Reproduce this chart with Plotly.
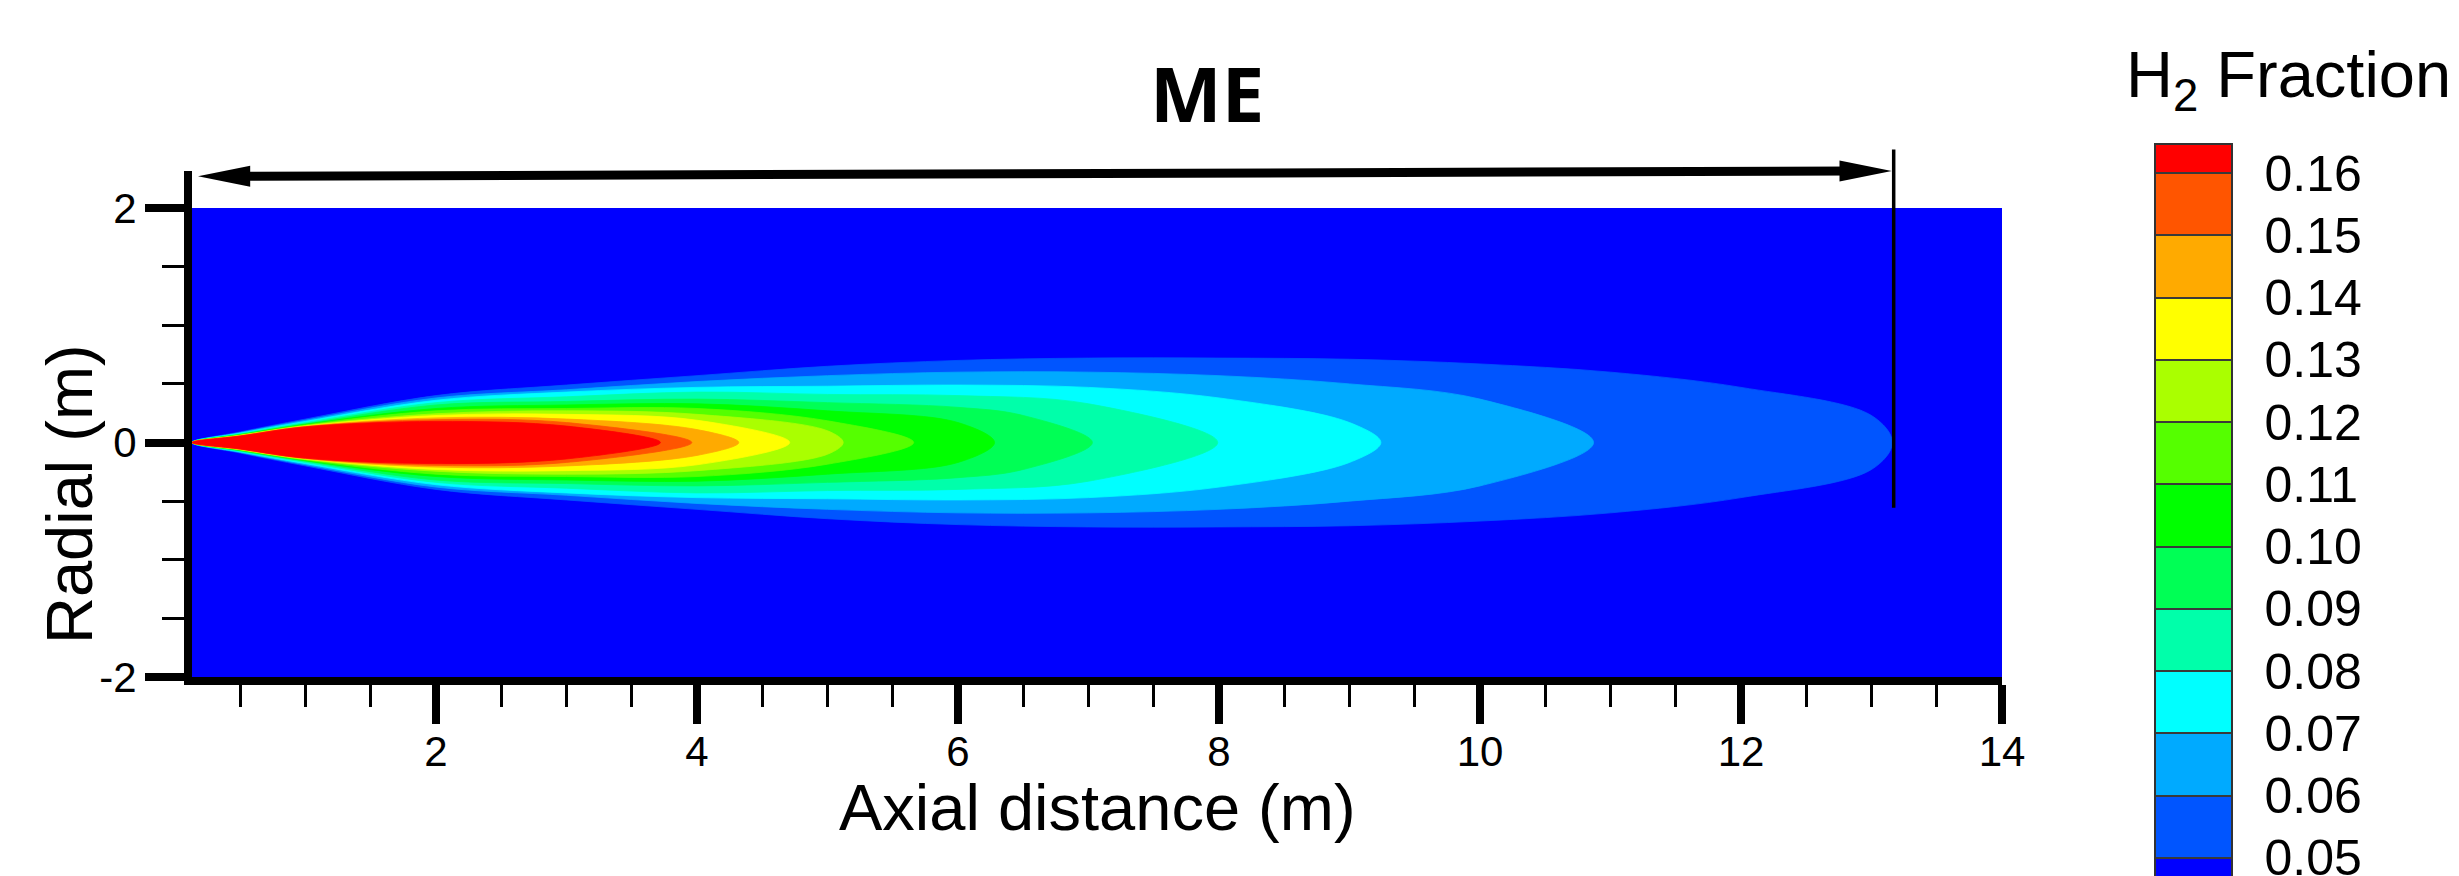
import plotly.graph_objects as go

# ---------------- data ----------------
levels = [0.05, 0.06, 0.07, 0.08, 0.09, 0.10, 0.11, 0.12, 0.13, 0.14, 0.15, 0.16]
level_labels = ["0.05", "0.06", "0.07", "0.08", "0.09", "0.10",
                "0.11", "0.12", "0.13", "0.14", "0.15", "0.16"]
# colour of band below levels[0], then of each band above levels[i]
band_colors = ["#0000FF", "#0055FF", "#00AAFF", "#00FFFF", "#00FFAA", "#00FF55",
               "#00FF00", "#55FF00", "#AAFF00", "#FFFF00", "#FFAA00", "#FF5500", "#FF0000"]

nozzle_x = 0.13
domain_x = [0.13, 14.0]
domain_r = [-2.0, 2.0]

# iso-contour half-widths (radial, m) at axial positions (m); last point = tip on axis
c005_x = [0.5, 1, 2, 3, 4, 5, 6, 7, 8, 9, 10, 11, 12, 13, 13.16]
c005_r = [0.09, 0.20, 0.40, 0.49, 0.57, 0.65, 0.70, 0.72, 0.72, 0.71, 0.67, 0.60, 0.47, 0.23, 0.0]
c006_x = [0.5, 1, 2, 3, 4, 5, 6, 7, 8, 9, 10, 10.87]
c006_r = [0.085, 0.19, 0.38, 0.45, 0.52, 0.57, 0.60, 0.60, 0.57, 0.50, 0.37, 0.0]
c007_x = [0.5, 1, 2, 3, 4, 5, 6, 7, 8, 9, 9.24]
c007_r = [0.08, 0.18, 0.36, 0.43, 0.47, 0.48, 0.49, 0.47, 0.38, 0.17, 0.0]
c008_x = [0.5, 1, 2, 3, 4, 5, 6, 7, 7.99]
c008_r = [0.075, 0.17, 0.34, 0.39, 0.43, 0.41, 0.40, 0.33, 0.0]
c009_x = [0.5, 1, 2, 3, 4, 5, 6, 6.5, 7.03]
c009_r = [0.07, 0.16, 0.32, 0.35, 0.37, 0.34, 0.30, 0.23, 0.0]
c010_x = [0.5, 1, 2, 3, 4, 5, 6, 6.28]
c010_r = [0.067, 0.155, 0.29, 0.32, 0.33, 0.27, 0.17, 0.0]
c011_x = [0.5, 1, 2, 3, 4, 5, 5.66]
c011_r = [0.064, 0.15, 0.27, 0.29, 0.29, 0.185, 0.0]
c012_x = [0.5, 1, 2, 3, 4, 5, 5.12]
c012_r = [0.062, 0.145, 0.245, 0.27, 0.24, 0.10, 0.0]
c013_x = [0.5, 1, 2, 3, 4, 4.71]
c013_r = [0.06, 0.14, 0.23, 0.24, 0.19, 0.0]
c014_x = [0.5, 1, 2, 3, 4, 4.32]
c014_r = [0.058, 0.138, 0.21, 0.20, 0.11, 0.0]
c015_x = [0.5, 1, 2, 3, 3.96]
c015_r = [0.056, 0.135, 0.195, 0.17, 0.0]
c016_x = [0.5, 1, 2, 3, 3.72]
c016_r = [0.055, 0.133, 0.18, 0.14, 0.0]

contours_x = [c005_x, c006_x, c007_x, c008_x, c009_x, c010_x,
              c011_x, c012_x, c013_x, c014_x, c015_x, c016_x]
contours_r = [c005_r, c006_r, c007_r, c008_r, c009_r, c010_r,
              c011_r, c012_r, c013_r, c014_r, c015_r, c016_r]

x_ticks = [2, 4, 6, 8, 10, 12, 14]
x_tick_text = ["2", "4", "6", "8", "10", "12", "14"]
y_ticks = [-2, 0, 2]
y_tick_text = ["-2", "0", "2"]

# annotation geometry (data units)
span_y_left, span_y_right = 2.27, 2.316
span_x_start, span_x_end = 0.176, 13.155
marker_x = 13.17
marker_y = [-0.556, 2.50]

# ---------------- layout constants ----------------
W, H = 2459, 876
ML, MR, MT, MB = 184, 465, 163, 207
x_range = [0.13, 14.0]
y_range = [-2.0, 2.3156]
PH = H - MT - MB
PW = W - ML - MR
FONT = "Liberation Sans, Arial, sans-serif"

def yp(v):
    return (v - y_range[0]) / (y_range[1] - y_range[0])

def px_to_xpaper(px):
    return (px - ML) / PW

def px_to_ypaper(py):
    return (H - MB - py) / PH

fig = go.Figure()

# domain background (lowest band)
fig.add_trace(go.Scatter(
    x=[domain_x[0], domain_x[1], domain_x[1], domain_x[0], domain_x[0]],
    y=[domain_r[0], domain_r[0], domain_r[1], domain_r[1], domain_r[0]],
    mode="lines", fill="toself", fillcolor=band_colors[0],
    line=dict(width=0, color=band_colors[0]), hoverinfo="skip", showlegend=False))

# filled iso-contours, outermost first
for i, (cx, cr) in enumerate(zip(contours_x, contours_r)):
    xs = [nozzle_x] + cx + cx[::-1][1:] + [nozzle_x]
    rs = [0.0] + cr + [-r for r in cr[::-1][1:]] + [0.0]
    col = band_colors[i + 1]
    fig.add_trace(go.Scatter(
        x=xs, y=rs, mode="lines", fill="toself", fillcolor=col,
        line=dict(width=0.8, color=col, shape="spline", smoothing=1.0),
        hoverinfo="skip", showlegend=False))

# colour bar (legend of the bands)
cmin = 0.04
cmax = 0.16466
def nrm(v):
    return (v - cmin) / (cmax - cmin)
eps = 1.0 / 776
sep = "#3a3a3a"
bounds = [cmin] + levels + [cmax]
cs = []
for i, col in enumerate(band_colors):
    lo = nrm(bounds[i]) + (eps if i > 0 else 0)
    hi = nrm(bounds[i + 1]) - (eps if i < len(band_colors) - 1 else 0)
    if i > 0:
        cs.append([lo, sep])
    cs.append([lo, col])
    cs.append([hi, col])
    if i < len(band_colors) - 1:
        cs.append([hi, sep])
fig.add_trace(go.Scatter(
    x=[None], y=[None], mode="markers", hoverinfo="skip", showlegend=False,
    marker=dict(color=[levels[0]], cmin=cmin, cmax=cmax, colorscale=cs, showscale=True,
                colorbar=dict(
                    x=px_to_xpaper(2147), xanchor="left", xpad=0,
                    y=px_to_ypaper(136), yanchor="top", ypad=0,
                    lenmode="pixels", len=776, thicknessmode="pixels", thickness=77,
                    outlinewidth=2, outlinecolor="#333333",
                    tickvals=levels, ticktext=level_labels,
                    ticks="outside", ticklen=22, tickcolor="rgba(0,0,0,0)",
                    ticklabeloverflow="allow",
                    tickfont=dict(family=FONT, size=50, color="black")))))

shapes = []
# span arrow shaft
shapes.append(dict(type="line", xref="x", yref="paper",
                   x0=span_x_start + 0.3, x1=span_x_end - 0.3,
                   y0=yp(span_y_left), y1=yp(span_y_right),
                   line=dict(color="black", width=9)))
hh = 10.5 / PH
hl = 0.40
shapes.append(dict(type="path", xref="x", yref="paper", fillcolor="black",
                   line=dict(width=0),
                   path=f"M{span_x_start},{yp(span_y_left)} L{span_x_start + hl},{yp(span_y_left) + hh} "
                        f"L{span_x_start + hl},{yp(span_y_left) - hh} Z"))
shapes.append(dict(type="path", xref="x", yref="paper", fillcolor="black",
                   line=dict(width=0),
                   path=f"M{span_x_end},{yp(span_y_right)} L{span_x_end - hl},{yp(span_y_right) + hh} "
                        f"L{span_x_end - hl},{yp(span_y_right) - hh} Z"))
# end marker line
shapes.append(dict(type="line", xref="x", yref="paper",
                   x0=marker_x, x1=marker_x, y0=yp(marker_y[0]), y1=yp(marker_y[1]),
                   line=dict(color="black", width=3.5)))

annotations = [
    dict(text="<b>ME</b>", x=px_to_xpaper(1199), y=px_to_ypaper(84), xref="paper", yref="paper",
         xanchor="center", yanchor="middle", showarrow=False,
         font=dict(family="Open Sans, sans-serif", size=76, color="black")),
    dict(text="Axial distance (m)", x=0.5, y=px_to_ypaper(799), xref="paper", yref="paper",
         xanchor="center", yanchor="middle", showarrow=False,
         font=dict(family=FONT, size=65, color="black")),
    dict(text="Radial (m)", x=px_to_xpaper(61), y=px_to_ypaper(486), xref="paper", yref="paper",
         xanchor="center", yanchor="middle", showarrow=False, textangle=-90,
         font=dict(family=FONT, size=65, color="black")),
    dict(text="H<sub>2</sub> Fraction", x=px_to_xpaper(2116), y=px_to_ypaper(72), xref="paper",
         yref="paper", xanchor="left", yanchor="middle", showarrow=False,
         font=dict(family=FONT, size=65, color="black")),
]

fig.update_layout(
    width=W, height=H, autosize=False,
    margin=dict(l=ML, r=MR, t=MT, b=MB, pad=0, autoexpand=False),
    paper_bgcolor="white", plot_bgcolor="white",
    showlegend=False, shapes=shapes, annotations=annotations,
    xaxis=dict(range=x_range, showgrid=False, zeroline=False, automargin=False,
               showline=True, linewidth=8, linecolor="black", mirror=False,
               tickmode="array", tickvals=x_ticks, ticktext=x_tick_text,
               ticks="outside", ticklen=39, tickwidth=8, tickcolor="black",
               ticklabelstandoff=-8,
               tickfont=dict(family=FONT, size=42, color="black"),
               minor=dict(tickmode="linear", tick0=0, dtick=0.5, ticks="outside",
                          ticklen=22, tickwidth=3, tickcolor="black", showgrid=False)),
    yaxis=dict(range=y_range, showgrid=False, zeroline=False, automargin=False,
               showline=True, linewidth=8, linecolor="black", mirror=False,
               tickmode="array", tickvals=y_ticks, ticktext=y_tick_text,
               ticks="outside", ticklen=39, tickwidth=8, tickcolor="black",
               tickfont=dict(family=FONT, size=42, color="black"),
               minor=dict(tickmode="linear", tick0=0, dtick=0.5, ticks="outside",
                          ticklen=22, tickwidth=3, tickcolor="black", showgrid=False)),
)

fig.write_html("out.html")
